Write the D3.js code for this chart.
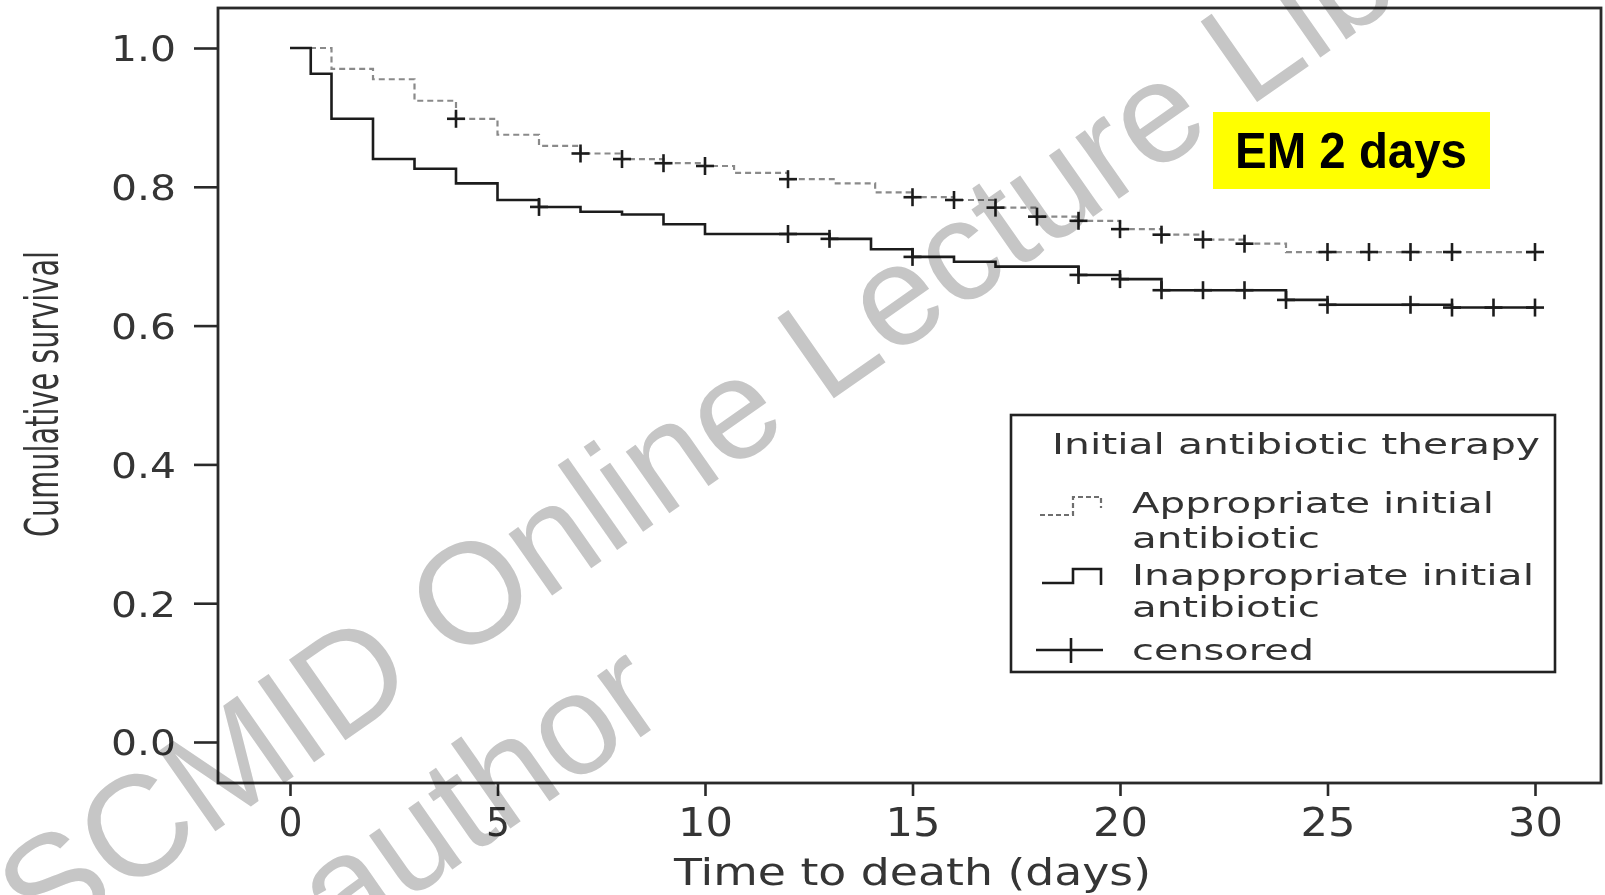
<!DOCTYPE html>
<html>
<head>
<meta charset="utf-8">
<script src="https://cdn.jsdelivr.net/npm/d3@7"></script>
<style>
  html, body { margin: 0; padding: 0; background: #fff; overflow: hidden; }
  svg { display: block; }
</style>
</head>
<body>
<svg id="chart" width="1605" height="895"></svg>
<script>
// Kaplan–Meier curves: cumulative survival by initial antibiotic therapy

const xTicks = [0, 5, 10, 15, 20, 25, 30];
const yTicks = [0, 0.2, 0.4, 0.6, 0.8, 1.0];
const yTickLabels = ["0.0", "0.2", "0.4", "0.6", "0.8", "1.0"];

// Appropriate initial antibiotic: event times (days) and survival after each step
const apprTimes = [0, 1, 2, 3, 4, 5, 6, 7, 8, 9, 10, 10.7, 12, 13.1, 14.1, 15, 16, 17, 18, 19, 20, 21, 22, 23, 24];
const apprSurv  = [1.0, 0.970, 0.955, 0.924, 0.898, 0.875, 0.859, 0.848, 0.840, 0.834, 0.830, 0.820, 0.811, 0.805, 0.792, 0.785, 0.781, 0.770, 0.757, 0.751, 0.739, 0.731, 0.724, 0.718, 0.706];
const apprCensored = [4, 7, 8, 9, 10, 12, 15, 16, 17, 18, 19, 20, 21, 22, 23, 25, 26, 27, 28, 30];

// Inappropriate initial antibiotic
const inapTimes = [0, 0.5, 1, 2, 3, 4, 5, 6, 7, 8, 9, 10, 13, 14, 15, 16, 17, 19, 20, 21, 24, 25, 28];
const inapSurv  = [1.0, 0.963, 0.898, 0.840, 0.826, 0.805, 0.781, 0.771, 0.764, 0.760, 0.746, 0.732, 0.725, 0.710, 0.699, 0.692, 0.685, 0.673, 0.667, 0.651, 0.637, 0.630, 0.626];
const inapCensored = [6, 12, 13, 15, 19, 20, 21, 22, 23, 24, 25, 27, 28, 29, 30];

const followUpEnd = 30;

const legendTitle = "Initial antibiotic therapy";
const legendLabels = [["Appropriate initial", "antibiotic"], ["Inappropriate initial", "antibiotic"], ["censored"]];
const xTitle = "Time to death (days)";
const yTitle = "Cumulative survival";
const badgeText = "EM 2 days";
const watermarkLines = ["SCMID Online Lecture Library", "author"];

// ---------------------------------------------------------------------------
const svg = d3.select("#chart");
const frame = { left: 218, top: 8, right: 1601, bottom: 783 };
const x = d3.scaleLinear().domain([0, 30]).range([290, 1535]);
const y = d3.scaleLinear().domain([0, 1]).range([742, 48]);

const ink = "#2a2a2a";
const font = "'DejaVu Sans', sans-serif";

function fit(sel, len) {
  return sel.attr("textLength", len).attr("lengthAdjust", "spacingAndGlyphs");
}

// plot frame
svg.append("rect")
  .attr("x", frame.left).attr("y", frame.top)
  .attr("width", frame.right - frame.left).attr("height", frame.bottom - frame.top)
  .attr("fill", "#fff").attr("stroke", ink).attr("stroke-width", 2.8);

// y axis
const yAxis = svg.append("g")
  .attr("transform", `translate(${frame.left},0)`)
  .call(d3.axisLeft(y).tickValues(yTicks)
    .tickFormat((d, i) => yTickLabels[i])
    .tickSizeInner(24).tickSizeOuter(0).tickPadding(18));
yAxis.select(".domain").remove();
yAxis.selectAll(".tick line").attr("stroke", ink).attr("stroke-width", 2.6);
yAxis.selectAll(".tick text")
  .attr("font-family", font).attr("font-size", 35).attr("fill", "#353535")
  .attr("dy", "0.37em")
  .each(function () { fit(d3.select(this), 65); });

// x axis
const xAxis = svg.append("g")
  .attr("transform", `translate(0,${frame.bottom})`)
  .call(d3.axisBottom(x).tickValues(xTicks).tickFormat(d3.format("d"))
    .tickSizeInner(13).tickSizeOuter(0).tickPadding(12));
xAxis.select(".domain").remove();
xAxis.selectAll(".tick line").attr("stroke", ink).attr("stroke-width", 2.6);
xAxis.selectAll(".tick text")
  .attr("font-family", font).attr("font-size", 39).attr("fill", "#353535")
  .attr("dy", "0.71em")
  .each(function (d) { fit(d3.select(this), String(d).length > 1 ? 55 : 24); });

// axis titles
fit(svg.append("text")
  .attr("x", (x(0) + x(30)) / 2).attr("y", 885)
  .attr("text-anchor", "middle")
  .attr("font-family", font).attr("font-size", 38).attr("fill", "#353535")
  .text(xTitle), 477);

fit(svg.append("text")
  .attr("transform", "translate(58,394) rotate(-90)")
  .attr("text-anchor", "middle")
  .attr("font-family", font).attr("font-size", 46).attr("fill", "#353535")
  .text(yTitle), 286);

// survival curves
function stepPoints(times, surv) {
  const pts = times.map((t, i) => [t, surv[i]]);
  pts.push([followUpEnd, surv[surv.length - 1]]);
  return pts;
}
function survAt(times, surv, t) {
  let s = surv[0];
  times.forEach((ti, i) => { if (ti <= t) s = surv[i]; });
  return s;
}
const line = d3.line().x(d => x(d[0])).y(d => y(d[1])).curve(d3.curveStepAfter);

svg.append("path")
  .attr("d", line(stepPoints(apprTimes, apprSurv)))
  .attr("fill", "none").attr("stroke", "#8a8a8a").attr("stroke-width", 2.2)
  .attr("stroke-dasharray", "6,4");

svg.append("path")
  .attr("d", line(stepPoints(inapTimes, inapSurv)))
  .attr("fill", "none").attr("stroke", "#1c1c1c").attr("stroke-width", 2.6);

// censoring marks
function censorMarks(times, surv, censored, cls) {
  const g = svg.append("g").attr("class", cls)
    .attr("stroke", "#1c1c1c").attr("stroke-width", 2.6);
  const marks = g.selectAll("g").data(censored).join("g")
    .attr("transform", t => `translate(${x(t)},${y(survAt(times, surv, t))})`);
  marks.append("line").attr("x1", -9).attr("x2", 9).attr("y1", 0).attr("y2", 0);
  marks.append("line").attr("x1", 0).attr("x2", 0).attr("y1", -9).attr("y2", 9);
}
censorMarks(apprTimes, apprSurv, apprCensored, "censor-appr");
censorMarks(inapTimes, inapSurv, inapCensored, "censor-inap");

// legend
const lg = svg.append("g").attr("class", "legend");
lg.append("rect").attr("x", 1011).attr("y", 415).attr("width", 544).attr("height", 257)
  .attr("fill", "#fff").attr("stroke", "#222").attr("stroke-width", 2.6);

const legendText = (tx, ty, str, len) => fit(lg.append("text")
  .attr("x", tx).attr("y", ty)
  .attr("font-family", font).attr("font-size", 29).attr("fill", "#333")
  .text(str), len);

legendText(1052, 454, legendTitle, 488);
legendText(1132, 513, legendLabels[0][0], 362);
legendText(1132, 548, legendLabels[0][1], 188);
legendText(1132, 585, legendLabels[1][0], 402);
legendText(1132, 617, legendLabels[1][1], 188);
legendText(1132, 660, legendLabels[2][0], 182);

// legend keys
lg.append("path").attr("d", "M1040,515 H1073 V497 H1101 V508")
  .attr("fill", "none").attr("stroke", "#6e6e6e").attr("stroke-width", 2.2)
  .attr("stroke-dasharray", "5,3");
lg.append("path").attr("d", "M1042,583 H1073 V569 H1101 V585")
  .attr("fill", "none").attr("stroke", "#1c1c1c").attr("stroke-width", 2.6);
lg.append("path").attr("d", "M1036,650 H1103 M1071,638 V663")
  .attr("fill", "none").attr("stroke", "#1c1c1c").attr("stroke-width", 2.6);

// watermark
const wm = svg.append("g")
  .attr("transform", "translate(43,952) rotate(-35)")
  .style("mix-blend-mode", "multiply")
  .attr("font-family", "'Liberation Sans', Arial, sans-serif")
  .attr("font-size", 143).attr("fill", "#c6c6c6");
wm.append("text").attr("x", 0).attr("y", 0).text(watermarkLines[0]);
wm.append("text").attr("x", 245).attr("y", 167).text(watermarkLines[1]);

// badge
svg.append("rect").attr("x", 1213).attr("y", 112).attr("width", 277).attr("height", 77)
  .attr("fill", "#ffff00");
fit(svg.append("text")
  .attr("x", 1235).attr("y", 168)
  .attr("font-family", "'Liberation Sans', Arial, sans-serif")
  .attr("font-weight", "bold").attr("font-size", 50).attr("fill", "#000")
  .text(badgeText), 232);
</script>
</body>
</html>
